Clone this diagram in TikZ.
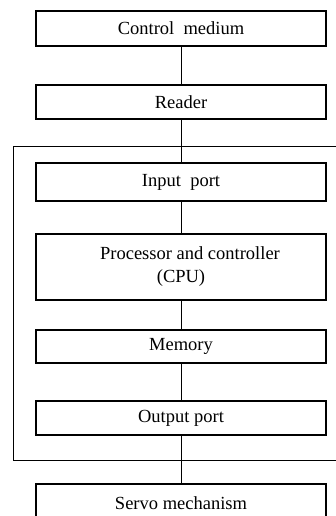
\documentclass[tikz,border=0pt]{standalone}
\usepackage{fontspec}
\setmainfont{Liberation Serif}
\usepackage{tikz}

\begin{document}
\begin{tikzpicture}[x=1pt,y=-1pt,
  unit/.style={draw,line width=1.4pt,minimum width=290pt,inner sep=0pt,
    font=\fontsize{18.5}{23}\selectfont,align=center},
  link/.style={line width=0.7pt}]
\useasboundingbox (0,0) rectangle (336,516);
\clip (0,0) rectangle (336,516);
% frame round the controller
\draw[line width=0.8pt] (13,146) rectangle (350,460);
\node[unit,minimum height=35pt] (ctrl) at (181,28.5) {Control\ \ medium};
\node[unit,minimum height=34pt] (reader) at (181,102) {Reader};
\node[unit,minimum height=38pt] (inport) at (181,182) {Input\ \ port};
\node[unit,minimum height=66pt] (cpu) at (181,267) {\hspace*{18pt}Processor and controller\\(CPU)};
\node[unit,minimum height=33pt] (memory) at (181,346.5) {Memory};
\node[unit,minimum height=34pt] (outport) at (181,418) {Output port};
\node[unit,minimum height=38pt] (servo) at (181,503) {Servo mechanism};
\draw[link] (ctrl)--(reader);
\draw[link] (reader)--(inport);
\draw[link] (inport)--(cpu);
\draw[link] (cpu)--(memory);
\draw[link] (memory)--(outport);
\draw[link] (outport)--(servo);
\end{tikzpicture}
\end{document}
